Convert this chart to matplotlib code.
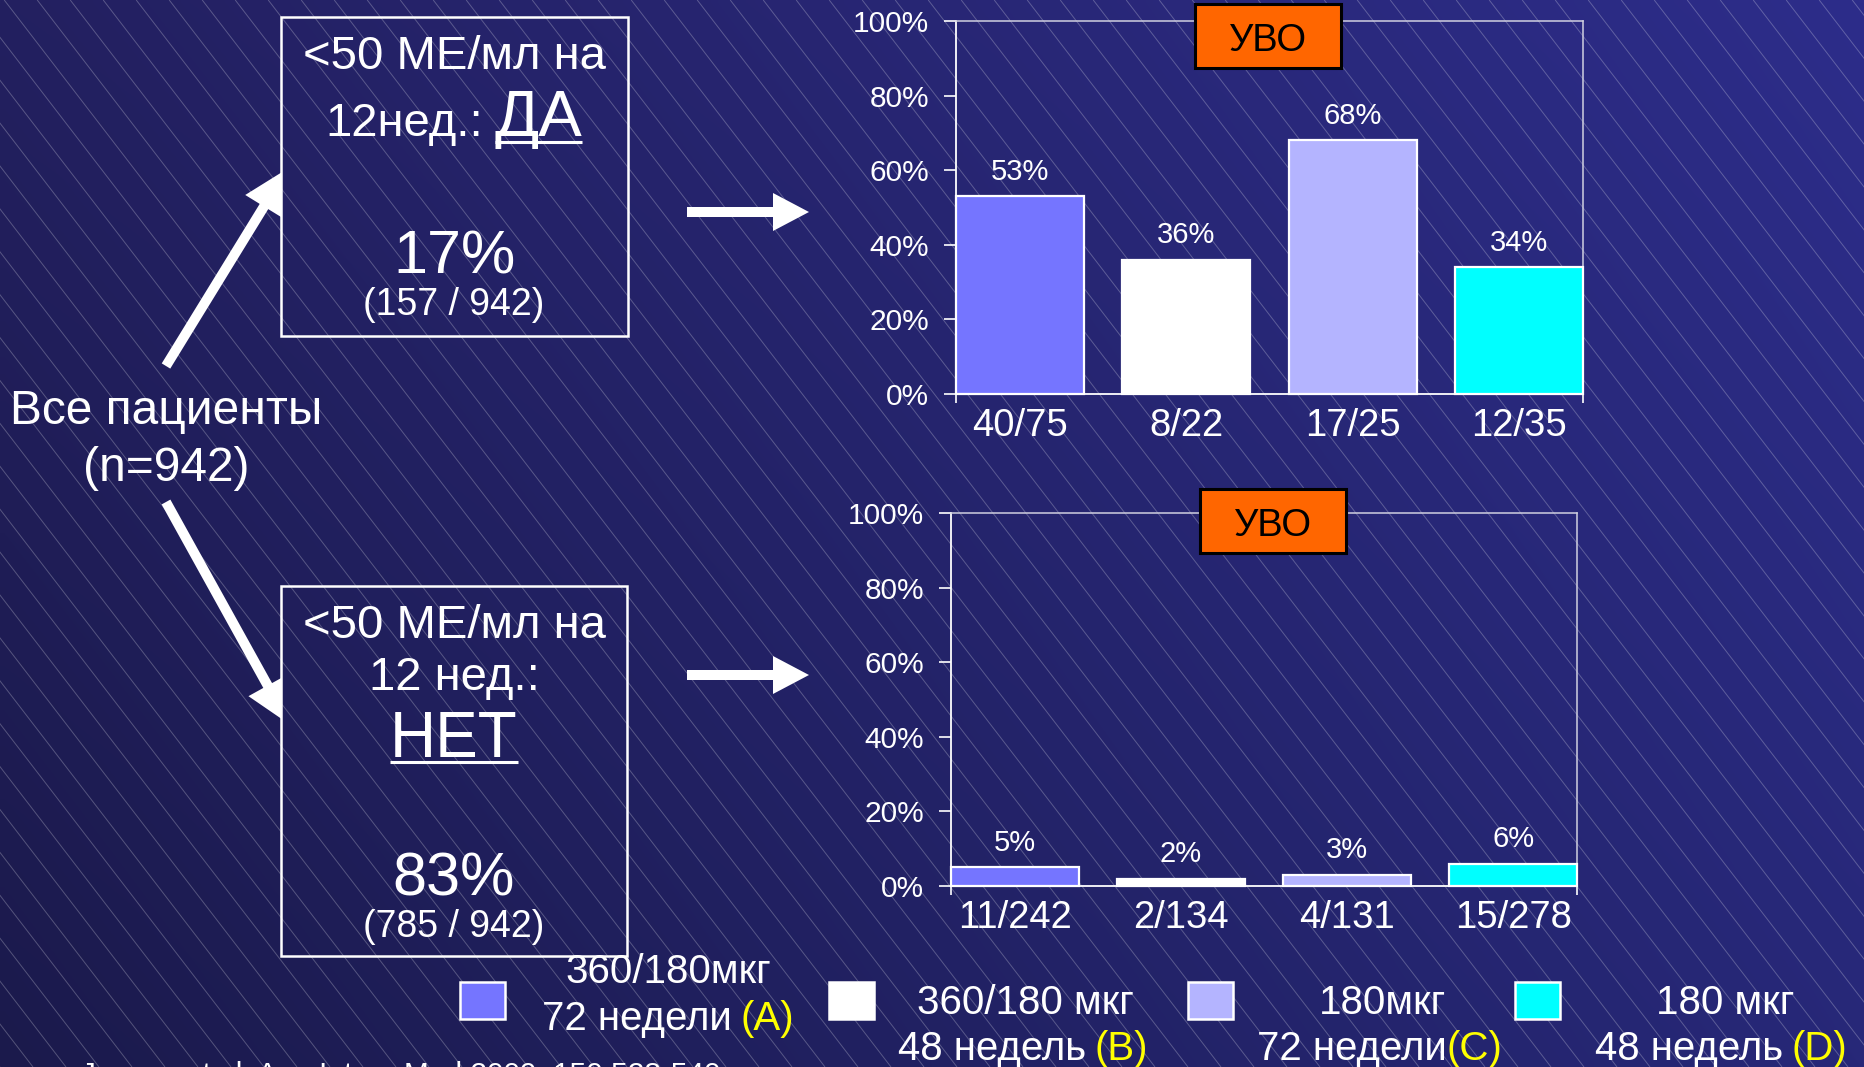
import numpy as np
import matplotlib
matplotlib.use('Agg')
import matplotlib.pyplot as plt
from matplotlib import patches
from matplotlib.collections import LineCollection

plt.rcParams['font.family'] = ['Liberation Sans', 'DejaVu Sans']

# treatment arms
arm_codes = ['A', 'B', 'C', 'D']
arm_dose = ['360/180мкг', '360/180 мкг', '180мкг', '180 мкг']
arm_weeks = ['72 недели', '48 недель', '72 недели', '48 недель']
arm_colors = ['#7575ff', '#ffffff', '#b4b4ff', '#00ffff']

# <50 IU/ml at week 12: SVR by arm
yes_counts = ['40/75', '8/22', '17/25', '12/35']
yes_svr = [53, 36, 68, 34]

# not <50 IU/ml at week 12: SVR by arm
no_counts = ['11/242', '2/134', '4/131', '15/278']
no_svr = [5, 2, 3, 6]

total_n = 942
yes_n, no_n = 157, 785
yes_share, no_share = 17, 83

W, H = 1864, 1067
fig = plt.figure(figsize=(W / 100, H / 100), dpi=100)

# --- background: dark blue gradient with thin diagonal lines
bg = fig.add_axes([0, 0, 1, 1], zorder=0)
bg.set_xlim(0, W)
bg.set_ylim(H, 0)
bg.axis('off')
gy, gx = np.mgrid[0:1:200j, 0:1:200j]
tl = np.array([0x23, 0x20, 0x60]) / 255
tr = np.array([0x2d, 0x2d, 0x8a]) / 255
bl = np.array([0x1b, 0x1a, 0x4c]) / 255
br = np.array([0x27, 0x28, 0x78]) / 255
grad = ((1 - gx) * (1 - gy))[..., None] * tl + (gx * (1 - gy))[..., None] * tr \
    + ((1 - gx) * gy)[..., None] * bl + (gx * gy)[..., None] * br
bg.imshow(grad, extent=(0, W, H, 0), aspect='auto', interpolation='bilinear')
slope = 1.3
segs = [[(x0, 0), (x0 + H / slope, H)] for x0 in np.arange(-H / slope, W + 40, 33)]
bg.add_collection(LineCollection(segs, colors='white', alpha=0.25, linewidths=0.7))


def px_axes(l, t, r, b):
    return fig.add_axes([l / W, 1 - b / H, (r - l) / W, (b - t) / H], zorder=2)


def draw_chart(ax, labels, values):
    x = np.arange(len(values))
    half = 0.385
    ax.bar(x, values, width=2 * half, color=arm_colors, edgecolor='white',
           linewidth=1.6, zorder=3, clip_on=False)
    ax.set_xlim(-half, len(values) - 1 + half)
    ax.set_ylim(0, 100)
    ticks = list(range(0, 101, 20))
    ax.set_yticks(ticks)
    ax.set_yticklabels([f'{v}%' for v in ticks])
    ax.set_xticks(x)
    ax.set_xticklabels(labels)
    ax.set_xticks([-half, len(values) - 1 + half], minor=True)
    ax.tick_params(axis='x', which='major', length=0, pad=10, labelsize=27.5, labelcolor='white')
    ax.tick_params(axis='x', which='minor', length=6.5, width=1.2, color='white', direction='out')
    ax.tick_params(axis='y', length=8.5, width=1.2, pad=11, labelsize=21.5,
                   color='white', labelcolor='white', direction='out')
    for xi, v in zip(x, values):
        ax.annotate(f'{v}%', (xi, v), xytext=(0, 12), textcoords='offset points',
                    ha='center', va='baseline', color='white', fontsize=21)
    ax.patch.set_alpha(0)
    for side in ['left', 'bottom']:
        ax.spines[side].set_color('white')
        ax.spines[side].set_linewidth(1.3)
    for side in ['top', 'right']:
        ax.spines[side].set_color('#d0d0e0')
        ax.spines[side].set_linewidth(1.1)


ax_yes = px_axes(956, 21, 1583, 394)
draw_chart(ax_yes, yes_counts, yes_svr)
ax_no = px_axes(951, 513, 1577, 886)
draw_chart(ax_no, no_counts, no_svr)

# --- overlay: boxes, arrows, captions, legend
ov = fig.add_axes([0, 0, 1, 1], zorder=5)
ov.set_xlim(0, W)
ov.set_ylim(H, 0)
ov.axis('off')
ov.patch.set_alpha(0)
renderer = fig.canvas.get_renderer()

# SVR labels over the charts
for (l, t, r, b), base in [((1195, 4, 1341, 68), 51), ((1200, 489, 1346, 553), 536)]:
    ov.add_patch(patches.Rectangle((l, t), r - l, b - t, fc='#ff6600', ec='black', lw=2.2))
    ov.text((l + r) / 2, base, 'УВО', ha='center', va='baseline', fontsize=27.5, color='black')


def text_row(xc, y, parts, gap=0):
    # parts: (string, colour, size); laid out left to right, centred on xc
    items = [ov.text(0, y, s, color=c, fontsize=fs, ha='left', va='baseline') for s, c, fs in parts]
    widths = [t.get_window_extent(renderer).width for t in items]
    x = xc - (sum(widths) + gap * (len(items) - 1)) / 2
    for t, w in zip(items, widths):
        t.set_x(x)
        x += w + gap
    return items


def underline(t, y, lw=2.2):
    bb = t.get_window_extent(renderer)
    ov.plot([bb.x0, bb.x1], [y, y], color='white', lw=lw, solid_capstyle='butt')


box_cx = 454
ov.add_patch(patches.Rectangle((281, 17), 347, 319, fill=False, ec='white', lw=1.8))
ov.add_patch(patches.Rectangle((281, 586), 346, 370, fill=False, ec='white', lw=1.8))

# upper box: responders
ov.text(box_cx, 69, '<50 МЕ/мл на', ha='center', va='baseline', fontsize=34, color='white')
row = text_row(box_cx, 136, [('12нед.:', 'white', 34), ('ДА', 'white', 47)], gap=11)
underline(row[1], 142)
ov.text(box_cx, 273, f'{yes_share}%', ha='center', va='baseline', fontsize=44, color='white')
ov.text(box_cx, 315, f'({yes_n} / {total_n})', ha='center', va='baseline', fontsize=27, color='white')

# lower box: non-responders
ov.text(box_cx, 638, '<50 МЕ/мл на', ha='center', va='baseline', fontsize=34, color='white')
ov.text(box_cx, 690, '12 нед.:', ha='center', va='baseline', fontsize=34, color='white')
t_no = ov.text(box_cx, 757, 'НЕТ', ha='center', va='baseline', fontsize=46, color='white')
underline(t_no, 762)
ov.text(box_cx, 896, f'{no_share}%', ha='center', va='baseline', fontsize=44, color='white')
ov.text(box_cx, 937, f'({no_n} / {total_n})', ha='center', va='baseline', fontsize=27, color='white')

# all patients
ov.text(166, 424, 'Все пациенты', ha='center', va='baseline', fontsize=34.5, color='white')
ov.text(166, 481, f'(n={total_n})', ha='center', va='baseline', fontsize=34.5, color='white')

# arrows
clip = patches.Rectangle((0, 0), 281, H, transform=ov.transData)
for (x0, y0), (x1, y1) in [((166, 366), (287, 169)), ((166, 502), (289, 724))]:
    a = patches.FancyArrow(x0, y0, x1 - x0, y1 - y0, width=10, head_width=44, head_length=44,
                           length_includes_head=True, color='white', lw=0)
    ov.add_patch(a)
    a.set_clip_path(clip)
for y in [212, 675]:
    ov.add_patch(patches.FancyArrow(687, y, 122, 0, width=10, head_width=38, head_length=36,
                                    length_includes_head=True, color='white', lw=0))

# legend
swatch_x = [460, 829, 1188, 1515]
dose_pos = [(668, 983), (1025, 1014), (1382, 1014), (1725, 1014)]
week_pos = [(668, 1030), (1023, 1060), (1380, 1060), (1721, 1060)]
gaps = [8, 8, 0, 8]
for i, code in enumerate(arm_codes):
    ov.add_patch(patches.Rectangle((swatch_x[i], 982), 45, 37, fc=arm_colors[i], ec='white', lw=1.8))
    ov.text(dose_pos[i][0], dose_pos[i][1], arm_dose[i], ha='center', va='baseline',
            fontsize=29, color='white')
    text_row(week_pos[i][0], week_pos[i][1],
             [(arm_weeks[i], 'white', 29), (f'({code})', '#ffff00', 29)], gap=gaps[i])

ov.text(81, 1083, 'Jensen et al. Ann Intern Med 2009; 150:528-540', ha='left', va='baseline',
        fontsize=21.5, color='white')

fig.savefig('out.png', dpi=100)
